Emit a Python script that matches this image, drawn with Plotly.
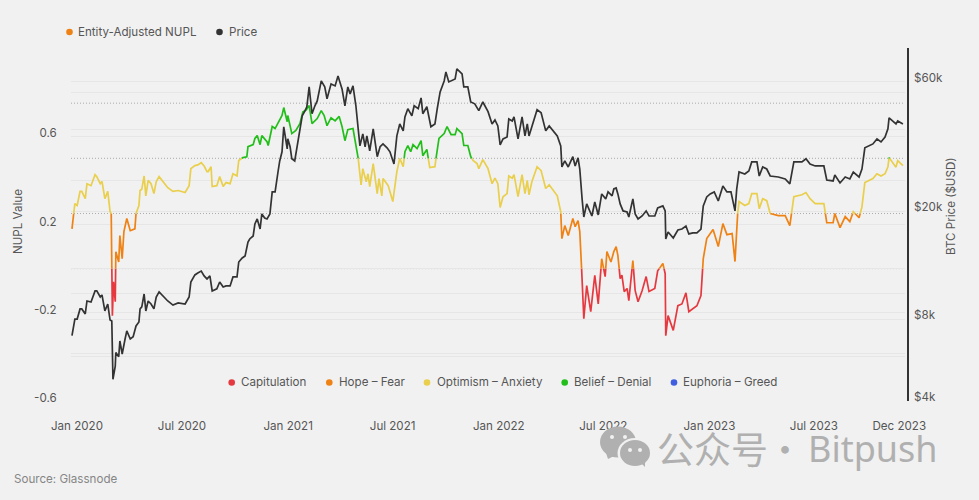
import math
import pandas as pd
import plotly.graph_objects as go

START = pd.Timestamp("2020-01-01")
price_days = [0,2,5,9,14,17,23,26,33,40,43,49,52,57,62,66,69,71,75,76,81,83,87,92,95,101,106,111,116,118,121,125,128,132,137,142,146,151,158,166,175,184,196,203,206,213,218,224,229,234,239,243,251,256,262,267,274,279,286,289,295,300,305,308,314,317,321,326,329,334,338,343,347,352,357,360,364,367,373,374,378,381,386,392,395,399,404,407,411,416,421,425,432,438,442,449,456,461,468,473,478,482,487,492,496,499,504,508,511,516,522,529,534,539,546,551,558,563,568,574,577,582,589,593,600,605,608,615,622,629,633,638,645,648,653,659,664,667,676,679,686,691,698,705,712,721,728,733,738,742,747,754,757,763,766,773,780,785,789,792,797,806,813,821,827,834,841,847,849,854,860,868,872,877,880,884,887,892,901,906,912,918,925,929,936,939,943,946,950,955,962,965,972,976,981,988,995,1000,1010,1015,1024,1028,1029,1033,1042,1050,1057,1064,1069,1076,1083,1090,1094,1100,1106,1113,1120,1128,1135,1142,1149,1152,1156,1166,1173,1178,1187,1191,1197,1204,1210,1224,1236,1244,1251,1265,1272,1279,1288,1303,1308,1319,1322,1331,1340,1348,1354,1364,1369,1374,1388,1395,1402,1409,1414,1416,1423,1428,1431,1440]
price_usd = [6960,7370,8020,8020,8740,8740,8375,9347,9270,10180,10180,9670,9840,8590,9110,7950,7890,4810,5380,6040,5820,6656,5960,6770,7250,6770,6900,7560,7820,8740,8890,9920,8590,9347,9110,8740,9670,10100,9750,9347,9030,9190,9110,9670,10985,11660,11860,12050,11560,11270,11560,10180,10360,10985,10526,10620,10620,11460,11460,13015,13470,13700,15420,15820,16230,17980,18750,17220,19560,18910,18750,19560,23590,23590,27930,30680,33150,41000,34000,37000,34600,31250,30680,37000,39600,45000,47000,48600,57500,45800,49000,51050,60500,57500,52000,59000,58000,63100,56500,49000,57500,54200,58000,49000,40300,34850,38600,34600,37950,33450,40300,31800,34600,35450,34300,33150,29900,37950,42000,39600,44600,47800,45000,49000,47800,52400,45800,48600,41000,42000,47800,55100,60500,65300,60000,61000,61500,67000,64200,57500,57500,50600,49800,47000,50600,46600,42000,43450,41300,35150,37000,37600,43800,43080,44600,37000,44600,37950,42000,37950,41300,47400,46200,39600,41300,39600,37950,34850,29150,30680,29150,31800,29400,31500,28650,22230,19070,21300,19230,21660,19400,23190,22230,23590,22800,24190,24400,23190,21300,20070,19900,19070,22230,19560,18750,19230,20070,19230,19230,20590,20940,20070,15820,16790,15960,17080,17220,17660,16510,16650,16650,17220,20940,22610,23190,23590,21840,24810,23590,23590,20070,24190,27930,27460,28170,30420,30420,27000,29150,28650,27000,26770,26320,25240,30420,30420,31250,29900,29400,29400,26100,25885,27240,25450,26770,26320,27930,26770,28650,34300,35450,37000,36050,37600,40300,44200,43080,42000,43080,42000]

nupl_days = [0,2,3,5,9,14,17,23,26,33,40,43,49,52,57,62,66,68,70,72,75,76,81,83,87,90,95,101,109,111,116,118,121,125,128,132,137,142,146,151,158,166,175,184,196,203,206,213,218,224,229,234,236,241,243,251,256,262,267,274,279,286,289,296,303,305,314,317,321,326,329,338,340,347,352,359,364,367,373,374,381,388,395,400,406,411,416,425,432,437,442,449,456,463,468,473,478,487,492,496,501,504,510,513,516,522,529,532,537,539,548,556,563,568,574,577,582,587,591,598,605,608,615,620,629,631,636,645,650,657,664,667,676,679,686,691,695,702,705,712,721,728,733,738,742,747,754,757,763,766,773,780,785,789,792,797,806,813,821,827,834,841,847,849,854,860,868,872,877,880,884,887,892,899,906,912,918,924,927,934,939,943,946,950,953,957,962,965,972,976,981,988,995,1000,1010,1015,1024,1028,1029,1033,1042,1050,1057,1064,1069,1076,1083,1090,1094,1100,1106,1111,1120,1128,1135,1144,1149,1152,1156,1166,1173,1178,1187,1191,1197,1204,1210,1224,1236,1244,1251,1265,1272,1279,1288,1303,1308,1319,1322,1331,1340,1348,1354,1364,1369,1374,1388,1395,1402,1409,1414,1416,1423,1428,1431,1440]
nupl_values = [.18,.227,.25,.295,.286,.35,.35,.317,.385,.376,.426,.417,.385,.395,.317,.35,.258,.25,-.213,-.06,-.15,.077,.03,.15,.045,.168,.227,.172,.18,.25,.286,.354,.36,.42,.33,.40,.385,.34,.394,.417,.394,.367,.35,.354,.345,.376,.453,.467,.47,.48,.465,.44,.44,.462,.372,.376,.417,.372,.39,.385,.43,.42,.49,.503,.507,.553,.562,.59,.603,.562,.603,.575,.558,.644,.635,.67,.694,.73,.666,.694,.612,.626,.657,.71,.72,.739,.657,.68,.716,.694,.648,.684,.67,.69,.644,.58,.63,.635,.558,.5,.38,.453,.394,.43,.372,.476,.34,.408,.33,.408,.376,.304,.44,.5,.462,.53,.558,.53,.562,.544,.58,.512,.54,.458,.462,.503,.59,.612,.644,.607,.607,.635,.612,.558,.558,.508,.49,.476,.453,.494,.453,.385,.41,.385,.277,.326,.34,.42,.41,.426,.326,.426,.34,.40,.335,.394,.462,.444,.363,.38,.354,.33,.258,.136,.195,.15,.227,.19,.218,.168,-.045,-.227,-.077,-.195,-.03,-.16,.045,-.036,.077,.03,.077,.10,.06,-.045,-.03,-.104,-.09,-.145,.036,-.10,-.15,-.10,-.036,-.104,-.09,-.01,.023,-.023,-.304,-.213,-.28,-.168,-.16,-.11,-.195,-.18,-.168,-.122,.045,.136,.159,.177,.10,.204,.154,.159,.032,.213,.304,.286,.295,.34,.34,.272,.317,.308,.25,.24,.24,.195,.326,.335,.345,.317,.295,.295,.208,.208,.25,.186,.236,.213,.258,.231,.28,.39,.408,.43,.42,.43,.462,.503,.476,.46,.49,.467]

zone_names = ["Capitulation", "Hope – Fear", "Optimism – Anxiety", "Belief – Denial", "Euphoria – Greed"]
zone_colors = ["#e5393f", "#ef8214", "#e9cf4c", "#22bf1a", "#3f5fe0"]
zone_limits = [0, 0.25, 0.5, 0.75]

x_tick_dates = ["2020-01-01","2020-07-01","2021-01-01","2021-07-01","2022-01-01","2022-07-01","2023-01-01","2023-07-01","2023-11-26"]
x_tick_labels = ["Jan 2020","Jul 2020","Jan 2021","Jul 2021","Jan 2022","Jul 2022","Jan 2023","Jul 2023","Dec 2023"]
left_ticks = [-0.6,-0.4,-0.2,0,0.2,0.4,0.6,0.8,1.0]
left_labels = ["-0.6","","-0.2","","0.2","","0.6","",""]
right_ticks = [4000,6000,8000,10000,20000,40000,60000,80000]
right_labels = ["$4k","","$8k","","$20k","","$60k",""]

BG = "#f1f1f1"; GRID = "#e6e6e6"; TXT = "#565656"; DARK = "#333333"
FONT = "Inter"
W, H = 979, 500
L, R, T, B = 71, 908, 48, 401

def px(x): return (x - L) / (R - L)
def py(y): return 1 - (y - T) / (B - T)
def date(d): return START + pd.Timedelta(days=float(d))

def zone_of(v):
    for i, lim in enumerate(zone_limits):
        if v < lim:
            return i
    return len(zone_limits)

segs = [([], []) for _ in zone_names]
for (d0, v0), (d1, v1) in zip(zip(nupl_days, nupl_values), zip(nupl_days[1:], nupl_values[1:])):
    cuts = [(d0, v0)]
    lims = [l for l in zone_limits if min(v0, v1) < l < max(v0, v1)]
    lims.sort(reverse=v1 < v0)
    for l in lims:
        cuts.append((d0 + (l - v0) / (v1 - v0) * (d1 - d0), l))
    cuts.append((d1, v1))
    for (a, va), (b, vb) in zip(cuts, cuts[1:]):
        z = zone_of((va + vb) / 2)
        xs, ys = segs[z]
        if not xs or xs[-1] != date(a):
            if xs:
                xs.append(None); ys.append(None)
            xs.append(date(a)); ys.append(va)
        xs.append(date(b)); ys.append(vb)

fig = go.Figure()
fig.add_trace(go.Scatter(x=[date(d) for d in price_days], y=price_usd, name="Price", mode="lines",
                         yaxis="y2", line=dict(color=DARK, width=1.7), showlegend=False))
for name, color, (xs, ys) in zip(zone_names, zone_colors, segs):
    fig.add_trace(go.Scatter(x=xs, y=ys, name=name, mode="lines", connectgaps=False,
                             line=dict(color=color, width=1.7), showlegend=False))

shapes, annots = [], []

def text(x, y, s, size=11.6, color=TXT, anchor="left", angle=0, fam=FONT):
    annots.append(dict(x=px(x), y=py(y), xref="paper", yref="paper", text=s, showarrow=False,
                       xanchor=anchor, yanchor="middle", textangle=angle, borderpad=0, borderwidth=0,
                       font=dict(family=fam, size=size, color=color)))

def ell(cx, cy, rx, ry, color):
    shapes.append(dict(type="circle", xref="paper", yref="paper", x0=px(cx - rx), x1=px(cx + rx),
                       y0=py(cy + ry), y1=py(cy - ry), fillcolor=color, line=dict(width=0), layer="above"))

def tri(pts, color):
    path = "M " + " L ".join(f"{px(a):.5f},{py(b):.5f}" for a, b in pts) + " Z"
    shapes.append(dict(type="path", xref="paper", yref="paper", path=path, fillcolor=color,
                       line=dict(width=0), layer="above"))

for lim in zone_limits:
    shapes.append(dict(type="line", xref="x domain", yref="y", x0=0, x1=1, y0=lim, y1=lim,
                       line=dict(color="#ababab", width=1, dash="1px,2px"), layer="below"))

for dx, tx, s, c in [(69.5, 78, "Entity-Adjusted NUPL", "#ef8214"), (219.5, 229, "Price", DARK)]:
    ell(dx, 32, 3.3, 3.3, c)
    text(tx, 31.5, s)
for dx, tx, s, c in zip([231.7, 329.3, 427, 564.7, 674], [240.5, 339, 437, 573.5, 683], zone_names, zone_colors):
    ell(dx, 382.5, 3.3, 3.3, c)
    text(tx, 382, s)

text(14, 479, "Source: Glassnode", color="#868686")
text(18, 221, "NUPL Value", anchor="center", angle=-90)
text(951, 206, "BTC Price ($USD)", anchor="center", angle=-90)

WM = "#b0b0b0"
ell(618, 442, 18, 15.5, WM)
tri([(606, 453), (608, 459), (616, 455)], WM)
ell(635, 453, 17.5, 15, BG)
ell(635, 453, 15, 13, WM)
tri([(640, 462), (645, 467), (645, 460)], WM)
for ex, ey in [(612, 437), (625, 437), (630, 450), (640, 450)]:
    ell(ex, ey, 2, 2, BG)
text(657, 448, "公众号", size=37, color=WM, fam="Noto Sans CJK SC")
text(767, 448, "·", size=36, color=WM, fam="Noto Sans CJK SC")
text(808, 448, "Bitpush", size=36, color=WM, fam="Noto Sans")

fig.update_layout(
    width=W, height=H, autosize=False,
    paper_bgcolor=BG, plot_bgcolor=BG,
    margin=dict(l=L, r=W - R, t=T, b=H - B, pad=0),
    font=dict(family=FONT, size=11.6, color=TXT),
    showlegend=False, shapes=shapes, annotations=annots,
    xaxis=dict(type="date", domain=[0, 834 / 837], range=[date(-1.7), date(1443.6)],
               tickmode="array", tickvals=x_tick_dates, ticktext=x_tick_labels,
               showgrid=False, zeroline=False, showline=False, ticks="outside", ticklen=14,
               tickcolor="rgba(0,0,0,0)", ticklabelshift=5, tickangle=0),
    yaxis=dict(range=[-0.6, 1.0], tickmode="array", tickvals=left_ticks, ticktext=left_labels,
               showgrid=True, gridcolor=GRID, gridwidth=1, zeroline=False, showline=False,
               ticks="outside", ticklen=11, tickcolor="rgba(0,0,0,0)", ticklabelshift=-3),
    yaxis2=dict(type="log", range=[math.log10(4000), math.log10(80000)], overlaying="y", side="right",
                anchor="free", position=1, tickmode="array", tickvals=right_ticks, ticktext=right_labels,
                showgrid=True, gridcolor=GRID, gridwidth=1, zeroline=False, showline=True,
                linecolor=DARK, linewidth=1.5, ticks="outside", ticklen=3, tickcolor="rgba(0,0,0,0)",
                ticklabelshift=-4),
)

fig.write_html("out.html", config=dict(displayModeBar=False),
               post_script="document.body.style.margin='0';document.documentElement.style.overflow='hidden';")
